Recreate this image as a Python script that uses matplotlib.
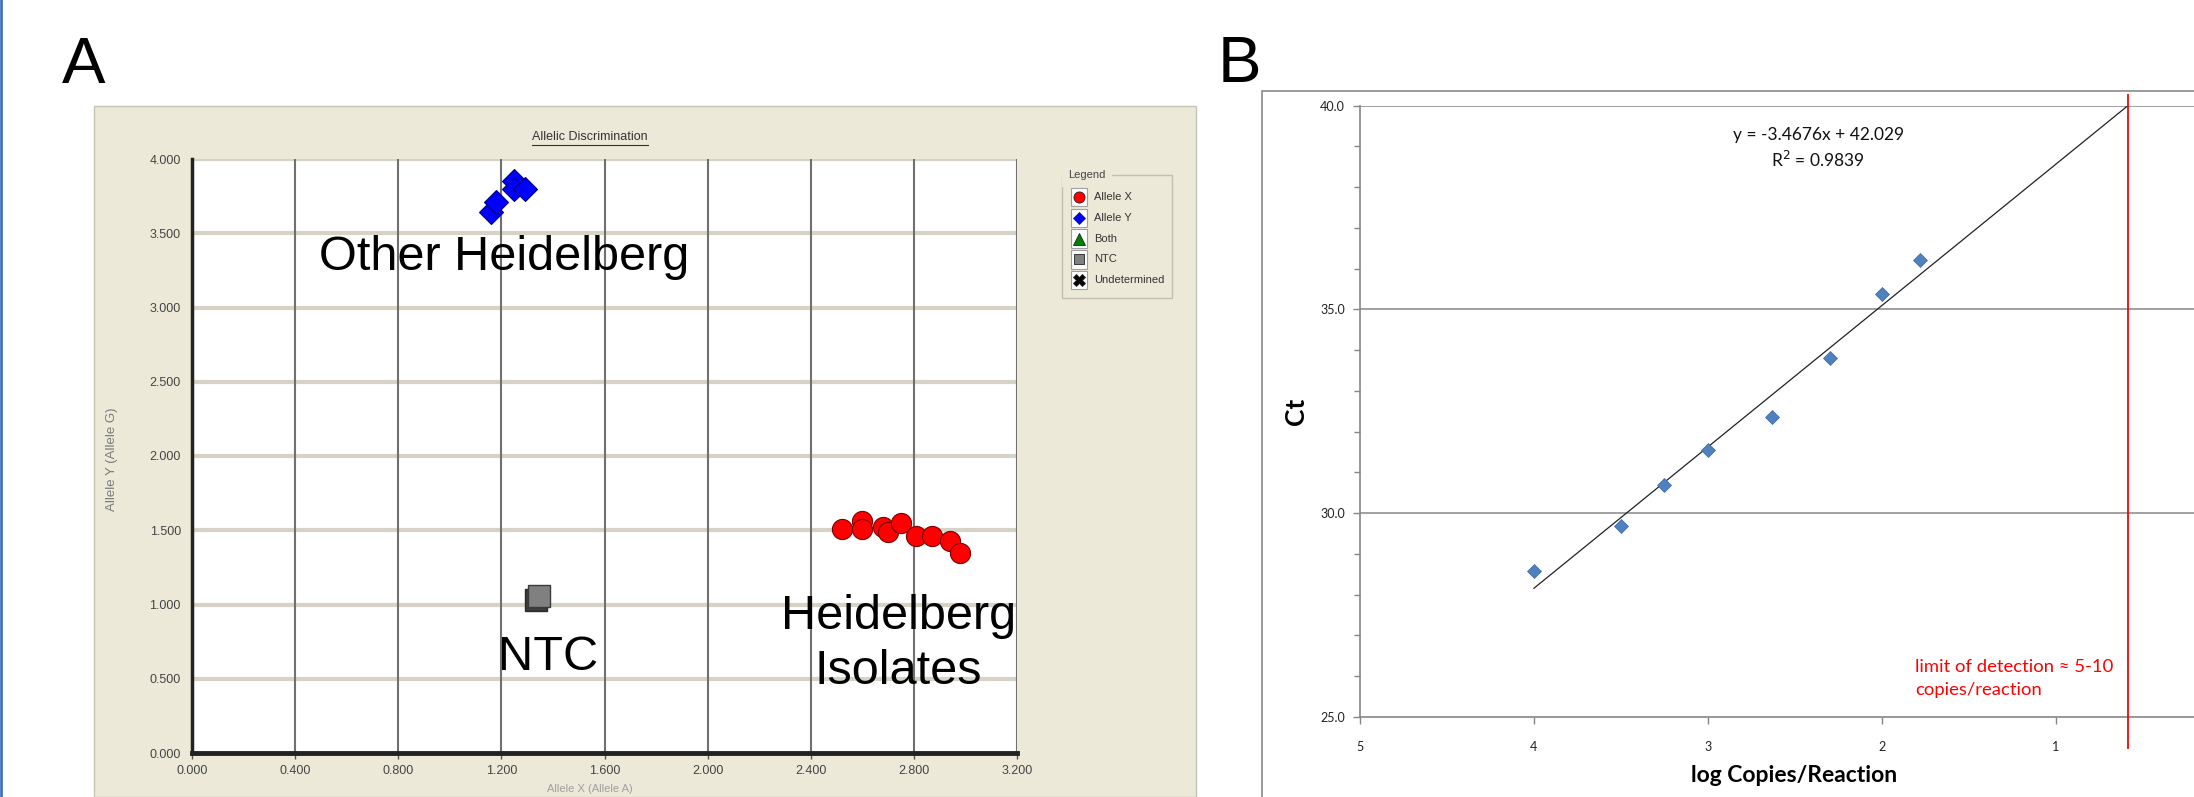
import numpy as np
import matplotlib
matplotlib.use("Agg")
import matplotlib.pyplot as plt
from matplotlib.patches import Rectangle
from matplotlib.lines import Line2D

# ── Panel A data: allelic discrimination ─────────────────────────
allele_x_x = [2.52, 2.60, 2.60, 2.68, 2.70, 2.75, 2.81, 2.87, 2.94, 2.98]
allele_x_y = [1.51, 1.56, 1.51, 1.52, 1.49, 1.55, 1.46, 1.46, 1.43, 1.35]
allele_y_x = [1.16, 1.18, 1.25, 1.25, 1.29]
allele_y_y = [3.64, 3.71, 3.85, 3.80, 3.80]
ntc_x = [1.334, 1.346]
ntc_y = [1.030, 1.057]
a_xticks = [0.0, 0.4, 0.8, 1.2, 1.6, 2.0, 2.4, 2.8, 3.2]
a_yticks = [0.0, 0.5, 1.0, 1.5, 2.0, 2.5, 3.0, 3.5, 4.0]
legend_labels = ["Allele X", "Allele Y", "Both", "NTC", "Undetermined"]

# ── Panel B data: standard curve ─────────────────────────────────
log_copies = [4.0, 3.5, 3.25, 3.0, 2.63, 2.30, 2.0, 1.78]
ct_values = [28.59, 29.68, 30.70, 31.55, 32.35, 33.82, 35.37, 36.22]
slope, intercept, r2 = -3.4676, 42.029, 0.9839
b_xticks = [5, 4, 3, 2, 1]
b_yticks = [25.0, 30.0, 35.0, 40.0]
lod_x = (intercept - 40.0) / -slope   # where the fit reaches Ct 40

W, H = 2194, 797
fig = plt.figure(figsize=(W / 100, H / 100), dpi=100)
fig.patch.set_facecolor("white")

def fx(px):
    return px / W

def fy(py):
    return 1 - py / H

# thin blue slide edge on the left
fig.add_artist(Line2D([fx(1), fx(1)], [0, 1], color="#4472C4", lw=2, zorder=-2))

# beige SDS panel (behind the axes)
fig.add_artist(Rectangle((fx(94), 0), fx(1196) - fx(94), fy(106), facecolor="#ECE9D8",
                         edgecolor="#C8C4B4", lw=1, zorder=-2))

narrow = ["Liberation Sans Narrow", "Liberation Sans", "DejaVu Sans"]
arial = ["Liberation Sans", "DejaVu Sans"]

axA = fig.add_axes([fx(192), fy(753), fx(1017) - fx(192), fy(159) - fy(753)])
axA.set_facecolor("white")
axA.set_xlim(0, 3.2)
axA.set_ylim(0, 4.0)
axA.set_xticks(a_xticks)
axA.set_yticks(a_yticks)
axA.set_xticklabels([f"{v:.3f}" for v in a_xticks], family=narrow, fontsize=9, color="#444444")
axA.set_yticklabels([f"{v:.3f}" for v in a_yticks], family=narrow, fontsize=9, color="#444444")
axA.tick_params(axis="x", length=4, width=1, color="#555555", pad=5)
axA.tick_params(axis="y", length=0, pad=8)
for v in a_yticks[1:]:
    axA.axhline(v, color="#D6D3C6", lw=3, zorder=1)
for v in a_xticks[1:]:
    axA.axvline(v, color="#707070", lw=1.5, zorder=1)
for s in ["top", "right"]:
    axA.spines[s].set_visible(False)
axA.spines["left"].set_color("#222222")
axA.spines["left"].set_linewidth(2.5)
axA.spines["bottom"].set_color("#222222")
axA.spines["bottom"].set_linewidth(3.5)

axA.plot(allele_x_x, allele_x_y, "o", ms=14.5, mfc="#FF0000", mec="#7a0000", mew=0.8, zorder=5)
axA.plot(allele_y_x, allele_y_y, "D", ms=12.5, mfc="#0000FF", mec="#000080", mew=0.8, zorder=5)
axA.plot(ntc_x[:1], ntc_y[:1], "s", ms=16.5, mfc="#3c3c3c", mec="#2a2a2a", mew=1, zorder=5)
axA.plot(ntc_x[1:], ntc_y[1:], "s", ms=16, mfc="#808080", mec="#3a3a3a", mew=1, zorder=6)

big = dict(family=arial, fontsize=35, color="black", ha="center", va="center", zorder=8)
axA.text(1.21, 3.34, "Other Heidelberg", **big)
axA.text(1.38, 0.64, "NTC", **big)
axA.text(2.74, 0.92, "Heidelberg", **big)
axA.text(2.74, 0.55, "Isolates", **big)

axA.set_ylabel("Allele Y (Allele G)", family=arial, fontsize=9.5, color="#7a7a7a")
axA.yaxis.set_label_coords(-0.09, 0.495)
fig.text(fx(590), fy(789), "Allele X (Allele A)", family=arial, fontsize=8, color="#A0A0A0",
         ha="center", va="center")

title = fig.text(fx(590), fy(137), "Allelic Discrimination", family=narrow, fontsize=9,
                 color="#333333", ha="center", va="center")
fig.canvas.draw()
bb = title.get_window_extent().transformed(fig.transFigure.inverted())
fig.add_artist(Line2D([bb.x0, bb.x1], [bb.y0 - 0.002, bb.y0 - 0.002], color="#333333", lw=0.8))

# legend box drawn like the SDS software legend
fig.add_artist(Rectangle((fx(1062), fy(298)), fx(1172) - fx(1062), fy(175) - fy(298),
                         facecolor="none", edgecolor="#C2BFB2", lw=1))
fig.text(fx(1068), fy(175), "Legend", family=narrow, fontsize=8, color="#444444",
         ha="left", va="center", backgroundcolor="#ECE9D8")
leg_styles = [("o", "#FF0000", 8), ("D", "#0000FF", 6.5), ("^", "#008000", 8),
              ("s", "#808080", 7), ("X", "#000000", 8)]
for i, (lab, (mk, col, ms)) in enumerate(zip(legend_labels, leg_styles)):
    yy = fy(197 + i * 20.8)
    fig.add_artist(Rectangle((fx(1071), yy - 0.0115), fx(16), 0.023, facecolor="white",
                             edgecolor="#A0A0A0", lw=0.8))
    fig.add_artist(Line2D([fx(1079)], [yy], marker=mk, ms=ms, mfc=col, mec="#222222", mew=0.6))
    fig.text(fx(1094), yy, lab, family=narrow, fontsize=8, color="#333333", ha="left", va="center")

fig.text(fx(84), fy(66), "A", family=arial, fontsize=47, ha="center", va="center")
fig.text(fx(1239), fy(65), "B", family=arial, fontsize=47, ha="center", va="center")

# ── Panel B ───────────────────────────────────────────────────────
fig.add_artist(Rectangle((fx(1261.5), -0.05), 0.5, fy(90.5) + 0.05, facecolor="white",
                         edgecolor="#898989", lw=1.2, zorder=-2))

sans = ["Lato", "DejaVu Sans"]
axB = fig.add_axes([fx(1360), fy(717), fx(2229.6) - fx(1360), fy(105.7) - fy(717)])
axB.set_facecolor("white")
axB.set_xlim(5, 0)
axB.set_ylim(25, 40)
axB.set_xticks(b_xticks)
axB.set_yticks(b_yticks)
axB.set_yticks(np.arange(25, 41, 1), minor=True)
axB.set_xticklabels([str(v) for v in b_xticks], family=sans, fontsize=9, color="#222222")
axB.set_yticklabels([f"{v:.1f}" for v in b_yticks], family=sans, fontsize=9, color="#222222")
axB.tick_params(axis="both", which="major", length=5, width=1, color="#868686", direction="out")
axB.tick_params(axis="y", which="minor", length=4, width=1, color="#868686", direction="out")
axB.tick_params(axis="x", pad=12)
axB.tick_params(axis="y", pad=6)
for s in ["top", "right"]:
    axB.spines[s].set_visible(False)
for s in ["left", "bottom"]:
    axB.spines[s].set_color("#868686")
    axB.spines[s].set_linewidth(1.2)
for v in b_yticks[1:]:
    axB.axhline(v, color="#868686", lw=1.1, zorder=1)

fit_x = np.array([max(log_copies), lod_x])
axB.plot(fit_x, slope * fit_x + intercept, color="#222222", lw=0.9, zorder=3)
axB.plot(log_copies, ct_values, "D", ms=7, mfc="#4F81BD", mec="#3B6BA5", mew=0.5, zorder=4)
axB.plot([lod_x, lod_x], [24.23, 40.27], color="#FF0000", lw=1.3, clip_on=False, zorder=5)

axB.text(2.365, 39.29, f"y = {slope}x + {intercept}", family=sans, fontsize=12.5,
         ha="center", va="center", color="#111111")
axB.text(2.365, 38.67, f"R$^2$ = {r2}", family=sans, fontsize=12.5,
         ha="center", va="center", color="#111111")
axB.text(1.81, 25.94, "limit of detection \u2248 5-10\ncopies/reaction", family=sans,
         fontsize=13.3, color="#FF0000", ha="left", va="center", linespacing=1.5)

fig.text(fx(1296), fy(411), "Ct", family=sans, fontsize=19, fontweight="bold",
         rotation=90, ha="center", va="center")
fig.text(fx(1794), fy(776), "log Copies/Reaction", family=sans, fontsize=16.5,
         fontweight="bold", ha="center", va="center")

fig.savefig("out.png", dpi=100)
